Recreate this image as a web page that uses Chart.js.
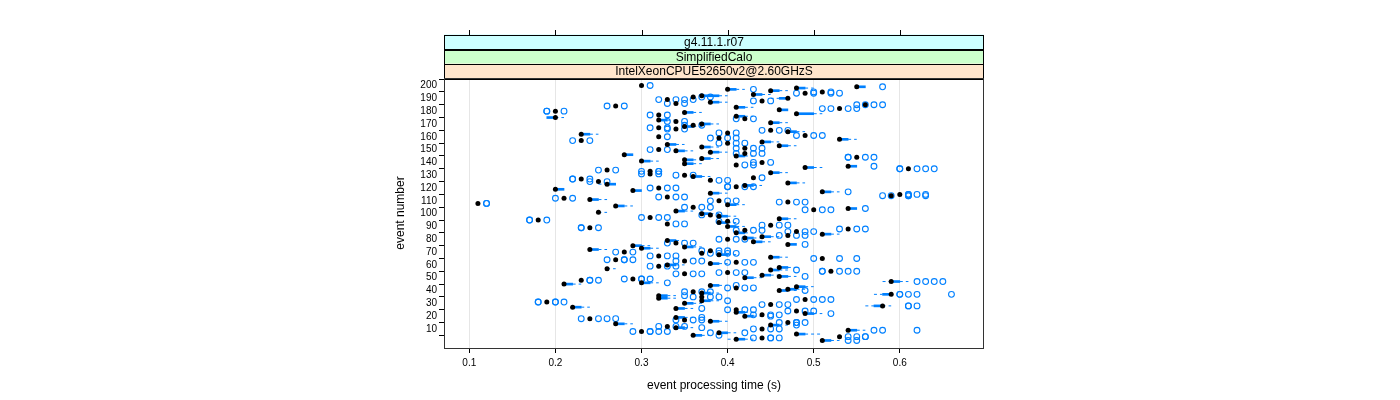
<!DOCTYPE html>
<html>
<head>
<meta charset="utf-8">
<script src="https://cdn.jsdelivr.net/npm/chart.js@4/dist/chart.umd.min.js"></script>
<style>
  html, body { margin: 0; padding: 0; background: #fff; }
  canvas { display: block; }
</style>
</head>
<body>
<canvas id="eventChart" width="1400" height="400"></canvas>
<script>
// tick labels
var xTicks = [0.1, 0.2, 0.3, 0.4, 0.5, 0.6];
var yTicks = [10, 20, 30, 40, 50, 60, 70, 80, 90, 100, 110, 120, 130, 140, 150, 160, 170, 180, 190, 200];

// strip labels, innermost first
var stripLabels = ['IntelXeonCPUE52650v2@2.60GHzS', 'SimplifiedCalo', 'g4.11.1.r07'];
var stripColors = ['#ffe5cc', '#ccffcc', '#ccffff'];

// per event (1..200): median, box (q1..q3), whisker ends, outliers
var medians = [
  .51,.41,.44,.53,.36,.48,.39,.30,.54,.44,.34,.33,.45,.27,.47,.38,.35,.24,.34,.42,
  .44,.49,.41,.48,.41,.34,.22,.58,.45,.35,.19,.37,.49,.32,.37,.32,.59,.37,.36,.46,
  .47,.41,.48,.38,.21,.30,.59,.23,.29,.42,.46,.44,.35,.40,.52,.45,.26,.46,.32,.33,
  .38,.41,.35,.27,.51,.45,.32,.39,.37,.28,.38,.24,.30,.35,.29,.47,.34,.43,.33,.40,
  .42,.44,.47,.51,.41,.48,.42,.54,.24,.40,.45,.33,.39,.40,.18,.46,.31,.39,.38,.37,
  .25,.34,.50,.54,.36,.27,.40,.11,.47,.39,.24,.21,.33,.59,.60,.38,.51,.29,.20,.32,
  .41,.42,.26,.47,.25,.38,.23,.43,.36,.35,.31,.45,.31,.26,.61,.49,.54,.41,.35,.44,
  .30,.35,.37,.55,.41,.28,.42,.38,.34,.32,.42,.37,.46,.33,.40,.44,.23,.53,.39,.32,
  .49,.23,.40,.47,.45,.34,.32,.35,.36,.37,.45,.34,.32,.42,.20,.41,.32,.48,.35,.20,
  .46,.53,.41,.27,.56,.34,.38,.44,.33,.47,.36,.37,.43,.49,.51,.45,.40,.48,.55,.30
];
var boxLo = [
  .51,.41,.44,.53,.36,.48,.39,.30,.54,.44,.34,.33,.45,.27,.47,.38,.35,.24,.34,.42,
  .44,.49,.41,.48,.41,.34,.22,.57,.45,.35,.19,.37,.49,.32,.37,.32,.58,.37,.36,.46,
  .47,.41,.48,.38,.21,.30,.59,.23,.29,.42,.46,.44,.35,.40,.52,.45,.26,.46,.32,.33,
  .38,.41,.35,.27,.51,.45,.32,.39,.37,.28,.38,.24,.30,.35,.29,.47,.34,.43,.33,.40,
  .42,.44,.47,.51,.41,.48,.42,.54,.24,.40,.45,.33,.39,.40,.18,.46,.31,.39,.38,.37,
  .25,.34,.50,.54,.36,.27,.40,.11,.47,.39,.24,.21,.33,.59,.60,.38,.51,.29,.20,.32,
  .41,.42,.26,.47,.25,.38,.23,.43,.36,.35,.31,.45,.31,.26,.61,.49,.54,.41,.35,.44,
  .30,.35,.37,.55,.41,.28,.42,.38,.34,.32,.42,.37,.46,.33,.40,.44,.23,.53,.39,.32,
  .49,.23,.40,.47,.45,.34,.32,.35,.36,.37,.45,.34,.32,.42,.19,.41,.32,.48,.35,.20,
  .46,.53,.41,.27,.56,.34,.38,.44,.33,.46,.36,.37,.43,.49,.51,.45,.40,.48,.55,.30
];
var boxHi = [
  .52,.42,.44,.53,.37,.49,.40,.30,.55,.44,.35,.33,.46,.28,.47,.39,.35,.24,.35,.43,
  .44,.50,.42,.48,.41,.35,.23,.58,.45,.36,.19,.38,.49,.33,.37,.33,.59,.38,.36,.47,
  .48,.41,.49,.39,.22,.31,.60,.23,.29,.43,.47,.45,.35,.40,.52,.46,.26,.47,.32,.34,
  .39,.41,.35,.27,.51,.46,.32,.40,.37,.28,.38,.25,.31,.36,.30,.48,.34,.44,.34,.40,
  .43,.45,.47,.52,.42,.48,.42,.54,.24,.41,.45,.33,.40,.40,.18,.47,.31,.40,.38,.38,
  .25,.35,.50,.55,.36,.28,.41,.11,.47,.39,.25,.21,.33,.59,.60,.39,.52,.30,.21,.32,
  .41,.43,.27,.48,.25,.38,.23,.43,.37,.35,.31,.46,.31,.26,.61,.50,.55,.41,.36,.44,
  .31,.36,.38,.55,.42,.29,.42,.39,.35,.32,.42,.38,.47,.34,.40,.45,.23,.54,.39,.32,
  .49,.24,.40,.48,.45,.34,.32,.36,.36,.38,.46,.34,.33,.42,.20,.42,.32,.50,.36,.20,
  .47,.53,.42,.27,.56,.34,.39,.44,.33,.47,.36,.39,.44,.49,.51,.46,.41,.49,.56,.30
];
var whiskLo = [
  .51,.40,.44,.53,.36,.48,.39,.30,.54,.44,.34,.33,.45,.27,.47,.38,.35,.24,.34,.42,
  .44,.49,.41,.48,.41,.34,.22,.56,.45,.35,.19,.37,.49,.32,.37,.32,.57,.37,.36,.46,
  .47,.41,.48,.38,.21,.30,.58,.23,.29,.42,.46,.44,.35,.40,.52,.45,.26,.46,.32,.33,
  .38,.41,.35,.27,.51,.45,.32,.39,.37,.28,.38,.24,.30,.35,.29,.47,.34,.43,.33,.40,
  .42,.44,.47,.51,.41,.48,.42,.54,.24,.40,.45,.33,.39,.40,.18,.46,.31,.39,.38,.37,
  .25,.34,.50,.54,.36,.27,.40,.11,.47,.39,.24,.21,.33,.59,.60,.38,.51,.29,.20,.32,
  .41,.42,.25,.47,.25,.38,.23,.43,.36,.35,.31,.45,.31,.26,.61,.49,.54,.41,.35,.44,
  .30,.35,.37,.55,.41,.28,.42,.38,.34,.32,.42,.37,.46,.33,.40,.44,.23,.53,.39,.32,
  .49,.23,.40,.47,.45,.34,.32,.35,.36,.37,.45,.34,.32,.42,.19,.41,.32,.48,.35,.20,
  .46,.53,.41,.27,.56,.34,.38,.44,.33,.45,.36,.37,.43,.49,.51,.45,.40,.48,.55,.30
];
var whiskHi = [
  .53,.43,.44,.53,.38,.51,.41,.30,.56,.44,.36,.33,.47,.29,.47,.40,.35,.24,.36,.44,
  .44,.51,.43,.48,.41,.36,.24,.59,.45,.37,.19,.39,.49,.34,.37,.34,.59,.39,.36,.48,
  .49,.41,.50,.40,.23,.32,.61,.23,.29,.44,.48,.46,.35,.40,.52,.47,.27,.48,.32,.35,
  .40,.41,.35,.27,.51,.47,.32,.41,.37,.28,.38,.26,.32,.37,.31,.48,.34,.45,.35,.40,
  .44,.46,.47,.53,.43,.48,.42,.54,.24,.42,.45,.33,.41,.40,.18,.48,.31,.41,.38,.39,
  .26,.36,.50,.55,.36,.29,.42,.11,.47,.39,.26,.21,.33,.59,.60,.40,.53,.30,.21,.32,
  .41,.44,.27,.49,.25,.38,.23,.43,.38,.35,.31,.47,.31,.26,.61,.51,.55,.41,.37,.44,
  .32,.37,.39,.55,.43,.29,.42,.40,.36,.32,.42,.39,.48,.35,.40,.46,.23,.55,.39,.32,
  .49,.25,.40,.49,.45,.34,.32,.37,.36,.39,.47,.34,.34,.42,.21,.43,.32,.51,.37,.20,
  .47,.53,.43,.27,.56,.34,.40,.44,.33,.47,.36,.40,.45,.49,.51,.47,.42,.50,.56,.30
];
var outliers = [
  [.54,.55], [], [.43,.45,.45,.46], [.54,.55,.56,.56], [.39], [], [.38,.42], [.29,.31,.31,.32,.33], [.57,.58,.62], [.43,.45,.46],
  [.37], [.32,.34,.35], [.48], [], [.46,.48,.48,.49], [], [.34,.36,.37], [.23,.25,.26,.27], [.37], [.45],
  [.43,.45,.46], [.52], [], [.47,.49,.50], [.40,.42,.43], [.37], [], [.61,.61,.62], [.44,.46,.47], [],
  [.18,.18,.20,.20,.21], [.40], [.48,.50,.51,.52], [], [.36,.38,.39], [.35], [.60,.60,.61,.62,.66], [], [.35,.37,.38], [.49],
  [], [.40,.42,.43], [], [.41], [], [.33], [.62,.63,.64,.65], [.24,.24,.25], [.28,.30,.30,.31], [],
  [.49], [], [.34,.36,.37], [.39,.41,.42], [.51,.51,.53,.54,.55], [.48], [], [], [.31,.33,.34], [],
  [], [.40,.42,.43], [.34,.36,.37], [.26,.28,.28,.29], [.50,.53,.55], [], [.31,.33,.34], [], [.38,.39,.40,.41], [.27,.29],
  [.37,.39,.40], [], [], [], [], [.49], [.33,.35,.36], [], [], [.39,.41,.42],
  [], [], [.46,.48,.49], [], [], [.47,.49,.50], [.41,.43,.44], [.53,.55,.56], [.23,.23,.25], [],
  [.44,.46,.47], [.34,.35], [], [.39,.41], [.17,.17,.19], [], [.30,.32,.33], [], [.37,.39], [],
  [], [], [.49,.51,.52], [.56], [.35,.37,.38], [], [], [.12,.12], [.46,.48,.49], [.38,.40,.41],
  [], [.20,.22], [.32,.34,.35], [.58,.59,.61,.61,.63], [.61,.61,.62,.63], [], [.54], [], [], [.31,.33,.34],
  [.40,.40,.42,.43], [], [], [], [.24,.26], [.39,.40], [.22,.22,.24], [.44], [], [.34,.36],
  [.30,.32], [], [.30,.32,.32], [.25,.27], [.60,.60,.62,.63,.64], [], [.57], [.42,.43], [], [.43,.45],
  [], [], [], [.54,.54,.56,.57], [], [], [.41,.43,.44], [], [], [.31,.33],
  [.41,.43,.44], [], [], [], [.39,.41,.42], [], [.22,.24], [], [.38,.40,.41], [.33],
  [.48,.50,.51], [], [.39,.41], [], [.44,.46,.47], [.33,.35], [.31,.33], [], [.35,.37], [],
  [], [.33,.35], [], [.41,.43], [], [], [.31,.33], [], [], [.19,.19,.21],
  [], [.51,.52,.54,.55], [], [.26,.28], [.55,.56,.57,.58], [.33,.35], [], [.43,.45], [.32,.34,.35,.36], [],
  [.37,.38], [], [], [.48,.50,.52,.53], [.50,.52], [], [.43], [], [.58], [.31]
];

var BLUE = '#0080ff';
var FONT = "'Liberation Sans', Arial, Helvetica, sans-serif";

var boxData = [], whiskData = [], outData = [], medData = [];
medians.forEach(function (m, i) {
  var ev = i + 1;
  boxData.push({ y: ev, x: [boxLo[i], boxHi[i]] });
  if (whiskLo[i] < boxLo[i]) {
    whiskData.push({ x: whiskLo[i], y: ev }, { x: boxLo[i], y: ev }, { x: NaN, y: NaN });
  }
  if (whiskHi[i] > boxHi[i]) {
    whiskData.push({ x: boxHi[i], y: ev }, { x: whiskHi[i], y: ev }, { x: NaN, y: NaN });
  }
  outliers[i].forEach(function (v) { outData.push({ x: v, y: ev }); });
  medData.push({ x: m, y: ev });
});

// strips, top ticks and the panel frame, lattice style
var latticeDecor = {
  id: 'latticeDecor',
  afterDraw: function (chart) {
    var ctx = chart.ctx, a = chart.chartArea, xs = chart.scales.x;
    var h = 14.5;
    ctx.save();
    ctx.lineWidth = 1;
    stripLabels.forEach(function (lab, k) {
      var top = a.top - (k + 1) * h;
      ctx.fillStyle = stripColors[k];
      ctx.fillRect(a.left, top, a.right - a.left, h);
      ctx.strokeStyle = '#000';
      ctx.strokeRect(Math.round(a.left) + 0.5, Math.round(top) + 0.5, Math.round(a.right - a.left) - 1, Math.round(h));
      ctx.fillStyle = '#000';
      ctx.font = '12px ' + FONT;
      ctx.textAlign = 'center';
      ctx.textBaseline = 'middle';
      ctx.fillText(lab, (a.left + a.right) / 2, top + h / 2 + 1);
    });
    var stripTop = Math.round(a.top - 3 * h);
    ctx.strokeStyle = '#000';
    xTicks.forEach(function (v) {
      var px = Math.round(xs.getPixelForValue(v)) + 0.5;
      ctx.beginPath();
      ctx.moveTo(px, stripTop);
      ctx.lineTo(px, stripTop - 5);
      ctx.stroke();
    });
    ctx.strokeStyle = '#333';
    ctx.strokeRect(Math.round(a.left) + 0.5, Math.round(a.top) + 0.5, Math.round(a.right - a.left) - 1, Math.round(a.bottom - a.top));
    ctx.restore();
  }
};

new Chart(document.getElementById('eventChart'), {
  type: 'scatter',
  data: {
    datasets: [
      { type: 'bar', indexAxis: 'y', data: boxData, backgroundColor: BLUE, borderWidth: 0, barThickness: 2, grouped: false, order: 3 },
      { type: 'line', data: whiskData, borderColor: BLUE, borderWidth: 1, borderDash: [3, 3], pointRadius: 0, fill: false, spanGaps: false, order: 2 },
      { data: outData, pointRadius: 2.9, pointBorderWidth: 1.1, pointBorderColor: BLUE, pointBackgroundColor: 'rgba(0,0,0,0)', order: 1 },
      { data: medData, pointRadius: 2.5, pointBorderWidth: 0, pointBackgroundColor: '#000', order: 0 }
    ]
  },
  options: {
    responsive: false,
    animation: false,
    devicePixelRatio: 1,
    layout: { padding: { left: 380, right: 416, top: 78, bottom: 0 } },
    plugins: { legend: { display: false }, tooltip: { enabled: false } },
    scales: {
      x: {
        type: 'linear', position: 'bottom', min: 0.0706, max: 0.6978,
        afterBuildTicks: function (s) { s.ticks = xTicks.map(function (v) { return { value: v }; }); },
        afterFit: function (s) { s.height = 52; },
        grid: { color: '#e6e6e6', tickColor: '#000', tickLength: 5, drawOnChartArea: true },
        border: { display: false },
        ticks: { color: '#000', font: { family: FONT, size: 10 }, padding: 4, maxRotation: 0, autoSkip: false,
          callback: function (v) { return String(v); } },
        title: { display: true, text: 'event processing time (s)', color: '#000', font: { family: FONT, size: 12 }, padding: { top: 0, bottom: 7 } }
      },
      y: {
        type: 'linear', position: 'left', min: 0.4, max: 200.6,
        afterBuildTicks: function (s) { s.ticks = yTicks.map(function (v) { return { value: v }; }); },
        afterFit: function (s) { s.width = 64; },
        grid: { drawOnChartArea: false, tickColor: '#000', tickLength: 5 },
        border: { display: false },
        ticks: { color: '#000', font: { family: FONT, size: 10 }, padding: 2, autoSkip: false },
        title: { display: true, text: 'event number', color: '#000', font: { family: FONT, size: 12 }, padding: { top: 13, bottom: 0 } }
      }
    }
  },
  plugins: [latticeDecor]
});
</script>
</body>
</html>
